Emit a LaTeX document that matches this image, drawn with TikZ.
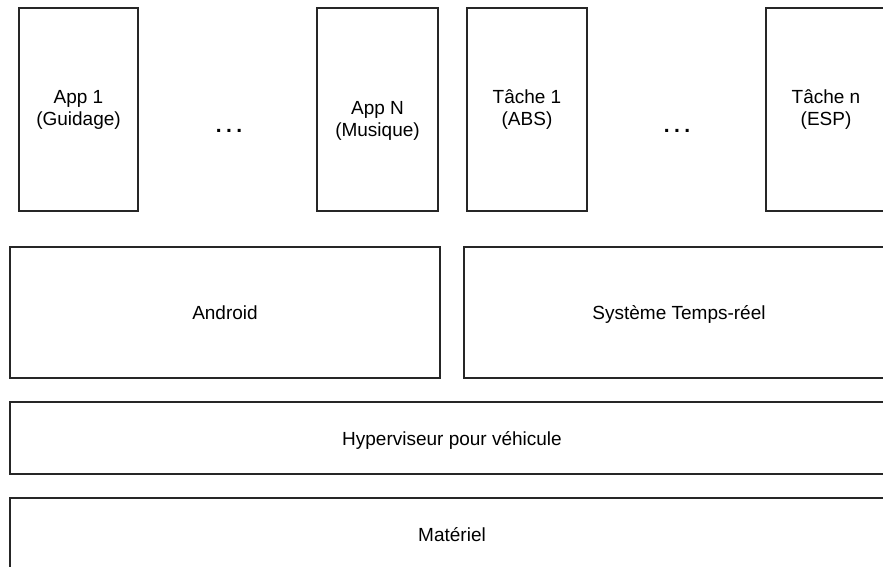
\documentclass[tikz,border=0pt]{standalone}
\usepackage{fontspec}
\setmainfont{Liberation Sans}
\begin{document}
\begin{tikzpicture}[x=1pt,y=-1pt,
  every node/.style={font=\fontsize{19}{22}\selectfont, text=black, inner sep=0pt, outer sep=0pt},
  layer/.style={draw=black!85, line width=1.2pt, rectangle, fill=white, align=center},
  oneline/.style={text height=18pt, text depth=3.4pt},
  dots/.style={font=\fontsize{21}{22}\selectfont\bfseries}
]
\useasboundingbox (0,0) rectangle (883,567);
\clip (0,0) rectangle (883,567);
% top row
\node[layer, minimum width=119pt, minimum height=203pt] (app1) at (78.5,109.5) {App 1\\(Guidage)};
\node[dots] (dots1) at (229,131) {.\hspace{4.5pt}.\hspace{4.5pt}.};
\node[layer, minimum width=121pt, minimum height=203pt] (appN) at (377.5,109.5) {};
\node[align=center] (appNlbl) at (377.5,121) {App N\\(Musique)};
\node[layer, minimum width=120pt, minimum height=203pt] (t1) at (527,109.5) {Tâche 1\\(ABS)};
\node[dots] (dots2) at (677,131) {.\hspace{4.5pt}.\hspace{4.5pt}.};
\node[layer, minimum width=120pt, minimum height=203pt] (tn) at (826,109.5) {Tâche n\\(ESP)};
% OS layer
\node[layer, oneline, minimum width=430pt, minimum height=131pt] (android) at (225,312.5) {Android};
\node[layer, oneline, minimum width=430pt, minimum height=131pt] (rtos) at (679,312.5) {Système Temps-réel};
% hypervisor
\node[layer, oneline, minimum width=884pt, minimum height=72pt] (hyp) at (452,438) {Hyperviseur pour véhicule};
% hardware
\node[layer, oneline, minimum width=884pt, minimum height=72pt] (hw) at (452,534) {Matériel};
\end{tikzpicture}
\end{document}
